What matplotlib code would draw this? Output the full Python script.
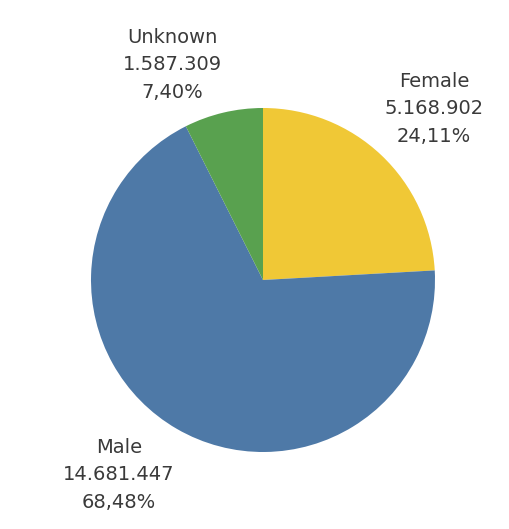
import matplotlib
matplotlib.use("Agg")
import matplotlib.pyplot as plt

categories = ["Female", "Male", "Unknown"]
counts = [5168902, 14681447, 1587309]
count_labels = ["5.168.902", "14.681.447", "1.587.309"]
pct_labels = ["24,11%", "68,48%", "7,40%"]
colors = ["#F0C836", "#4E79A7", "#59A14F"]

W, H = 510, 529
fig = plt.figure(figsize=(W / 100, H / 100), dpi=100)
ax = fig.add_axes([0, 0, 1, 1])

cx, cy, r = 263, H - 280, 172
ax.pie(counts, colors=colors, startangle=90, counterclock=False,
       center=(cx, cy), radius=r, frame=True,
       wedgeprops=dict(linewidth=0))
ax.set_xlim(0, W)
ax.set_ylim(0, H)
ax.set_aspect("equal")
ax.axis("off")

# label anchors (middle line of each three-line block)
label_pos = {"Female": (434, H - 109), "Male": (119, H - 475), "Unknown": (172, H - 65)}
for cat, cl, pl in zip(categories, count_labels, pct_labels):
    x, y = label_pos[cat]
    ax.text(x, y, f"{cat}\n{cl}\n{pl}", ha="center", va="center",
            fontsize=14, color="#3a3a3a", linespacing=1.55,
            family=["DejaVu Sans"])

fig.savefig("out.png", dpi=100, facecolor="white")
